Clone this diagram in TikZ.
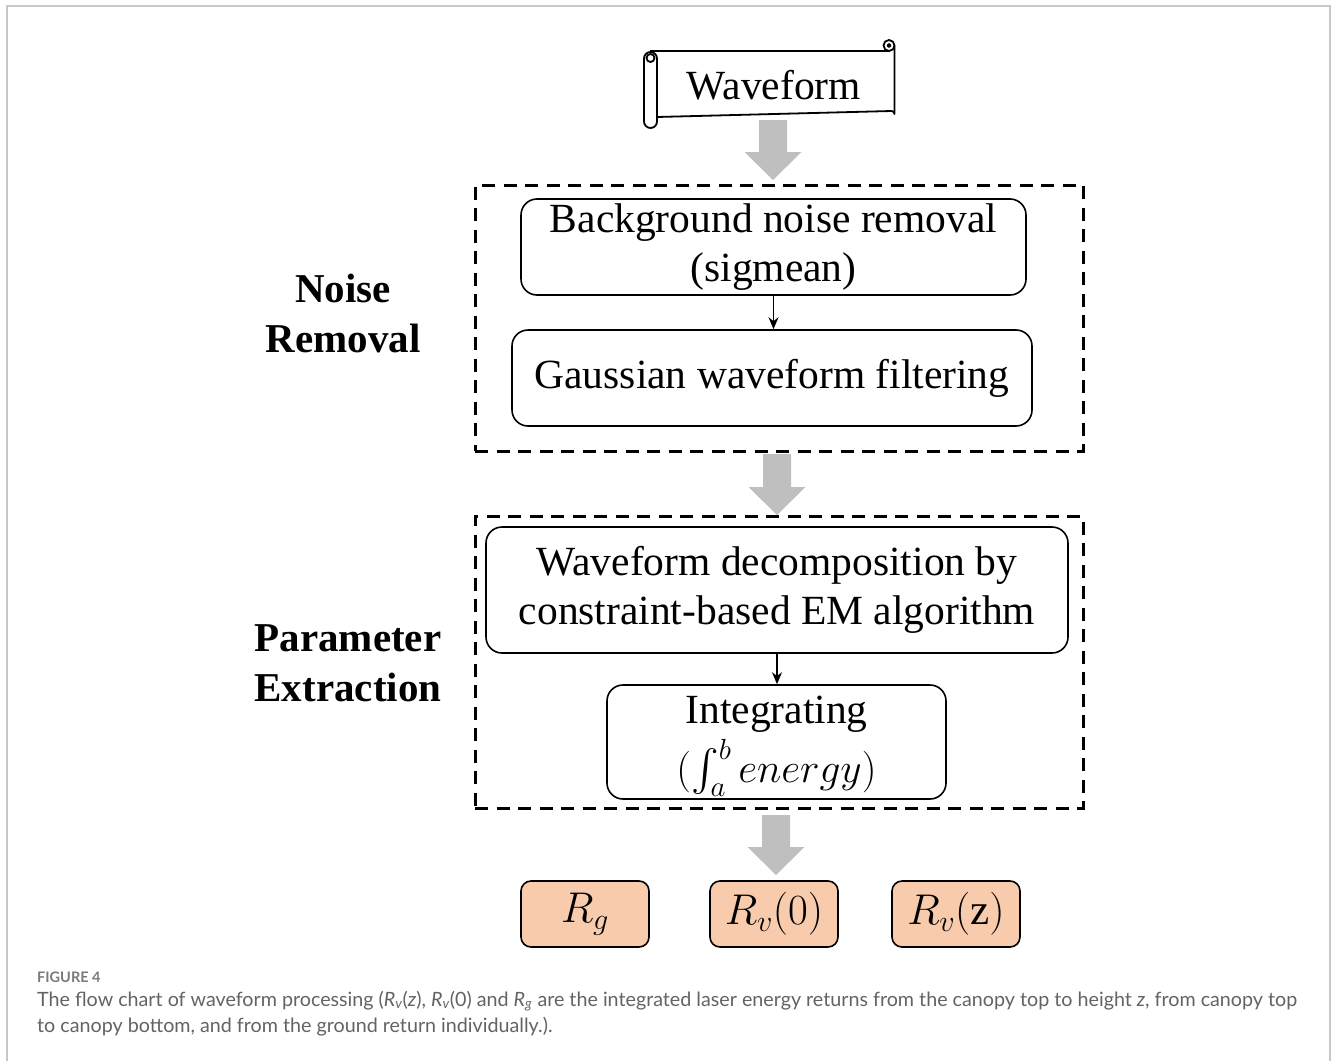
\RequirePackage{fix-cm}
\documentclass[tikz,border=0pt]{standalone}
\DeclareFontShape{OMX}{cmex}{m}{n}{<->cmex10}{}
\usepackage{fontspec}
\setmainfont{Liberation Serif}
\newfontfamily\capfont{Lato}
\usetikzlibrary{arrows.meta}
\definecolor{peach}{HTML}{F8CBAD}
\definecolor{arrowgray}{HTML}{BFBFBF}
\definecolor{framegray}{HTML}{C8C8C8}
\definecolor{captext}{HTML}{636363}
\definecolor{capfig}{HTML}{7A7A7A}
\tikzset{
  box/.style={draw, line width=1.6pt, rounded corners=16pt, align=center, inner sep=0pt, font=\fontsize{41.5}{49}\selectfont},
  boxtext/.style={inner sep=0pt, font=\fontsize{41.5}{49}\selectfont},
  outbox/.style={draw, line width=1.6pt, rounded corners=10pt, fill=peach, minimum width=128pt, minimum height=66pt, inner sep=0pt, font=\fontsize{43}{48}\selectfont},
  group/.style={draw, line width=3pt, dash pattern=on 13pt off 8.5pt, inner sep=0pt},
  lab/.style={font=\bfseries\fontsize{41}{50}\selectfont, align=center},
  link/.style={line width=1.5pt, -{Stealth[length=12pt,width=10pt]}},
  scroll/.style={line width=1.8pt, line join=round},
  captxt/.style={anchor=base west, font=\capfont\fontsize{19.7}{24}\selectfont, text=captext, inner sep=0pt},
}
\newcommand\garrow[4]{%
  \fill[arrowgray] (#1-14,#2) -- (#1+14,#2) -- (#1+14,#3) -- (#1+28.5,#3) -- (#1,#4) -- (#1-28.5,#3) -- (#1-14,#3) -- cycle;}
\begin{document}
\begin{tikzpicture}[x=1pt,y=-1pt]
\useasboundingbox (0,0) rectangle (1333,1060);
% outer frame
\draw[framegray, line width=1.5pt] (7,1062) -- (7,6) -- (1330,6) -- (1330,1062);

% scroll (Waveform)
\draw[scroll] (650,51) -- (889,51);
\draw[scroll] (889,45.5) circle (5.5);
\draw[scroll] (889,45.5) circle (1.5);
\draw[scroll] (894.5,45.5) -- (894.5,114) arc (0:-90:3) -- (657,117);
\draw[scroll, rounded corners=6.5pt] (644,52) rectangle (657,128);
\draw[scroll] (650.5,58) circle (4);
\node[font=\fontsize{41.5}{48}\selectfont, inner sep=0pt] (wave) at (774,85) {Waveform};

% group frames
\node[group, minimum width=608pt, minimum height=266pt] (g1) at (779,318) {};
\node[group, minimum width=608pt, minimum height=292pt] (g2) at (779,662) {};

% gray block arrows
\garrow{773}{120}{152}{180}
\garrow{777}{454}{487}{515}
\garrow{776}{815}{847}{875}

% boxes
\node[box, minimum width=505pt, minimum height=96pt] (bg) at (773.5,247) {Background noise removal\\(sigmean)};
\node[box, minimum width=520pt, minimum height=96pt] (ga) at (772,378) {Gaussian waveform filtering};
\node[box, minimum width=582pt, minimum height=126pt] (wd) at (777,590) {Waveform decomposition by\\constraint-based EM algorithm};
\node[box, minimum width=339pt, minimum height=114pt] (in) at (776.5,742) {};
\node[boxtext] (inA) at (776.5,714) {Integrating};
\node[boxtext, anchor=base] (inB) at (776.5,782) {$(\smash{\int_a^b}\, energy)$};
\draw[link] (bg.south) -- (bg.south |- ga.north);
\draw[link] (wd.south) -- (wd.south |- in.north);

% side labels
\node[lab] (nr) at (343,313) {Noise\\Removal};
\node[lab] (pe) at (348,663) {Parameter\\Extraction};

% outputs
\node[outbox] (rg) at (585,914) {$R_g$};
\node[outbox] (rv0) at (774,914) {$R_v(0)$};
\node[outbox] (rvz) at (956,914) {$R_v(\textrm{z})$};

% caption
\node[anchor=base west, font=\capfont\bfseries\fontsize{14.5}{16}\selectfont, text=capfig, inner sep=0pt] (fig) at (37,982) {FIGURE 4};
\node[captxt] (cap1) at (37,1006) {The flow chart of waveform processing (\textit{R}\textsubscript{\textit{v}}(\textit{z}), \textit{R}\textsubscript{\textit{v}}(0) and \textit{R}\textsubscript{\textit{g}} are the integrated laser energy returns from the canopy top to height \textit{z}, from canopy top};
\node[captxt] (cap2) at (37,1032) {to canopy bottom, and from the ground return individually.).};
\end{tikzpicture}
\end{document}
